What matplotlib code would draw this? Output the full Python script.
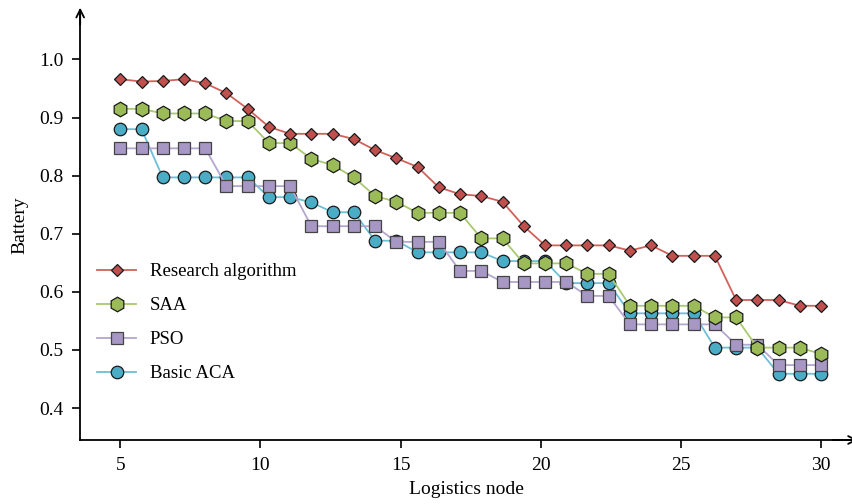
import numpy as np
import matplotlib.pyplot as plt

# 34 logistics nodes spread evenly between 5 and 30
nodes = np.linspace(5, 30, 34)

research = [0.966, 0.962, 0.963, 0.966, 0.959, 0.942, 0.915, 0.884, 0.872, 0.872,
            0.872, 0.863, 0.844, 0.830, 0.815, 0.780, 0.768, 0.765, 0.755, 0.713,
            0.680, 0.680, 0.680, 0.680, 0.671, 0.680, 0.662, 0.662, 0.662, 0.586,
            0.586, 0.586, 0.576, 0.576]
saa = [0.915, 0.915, 0.907, 0.907, 0.907, 0.894, 0.894, 0.856, 0.856, 0.829,
       0.818, 0.797, 0.765, 0.755, 0.736, 0.736, 0.736, 0.692, 0.692, 0.649,
       0.649, 0.649, 0.631, 0.631, 0.576, 0.576, 0.576, 0.576, 0.556, 0.556,
       0.504, 0.504, 0.504, 0.493]
pso = [0.847, 0.847, 0.847, 0.847, 0.847, 0.782, 0.782, 0.782, 0.782, 0.713,
       0.713, 0.713, 0.713, 0.686, 0.686, 0.686, 0.636, 0.636, 0.617, 0.617,
       0.617, 0.617, 0.593, 0.593, 0.544, 0.544, 0.544, 0.544, 0.544, 0.509,
       0.509, 0.474, 0.474, 0.474]
basic_aca = [0.880, 0.880, 0.797, 0.797, 0.797, 0.797, 0.797, 0.763, 0.763, 0.754,
             0.737, 0.737, 0.688, 0.688, 0.668, 0.668, 0.668, 0.668, 0.653, 0.653,
             0.653, 0.615, 0.615, 0.615, 0.563, 0.563, 0.563, 0.563, 0.504, 0.504,
             0.504, 0.459, 0.459, 0.459]

plt.rcParams['font.family'] = ['Liberation Serif', 'DejaVu Serif']

fig = plt.figure(figsize=(8.53, 5.04), dpi=100)
ax = fig.add_axes([0.094, 0.127, 0.906, 0.853])

# drawn back to front: ACA, PSO, SAA, research
ax.plot(nodes, basic_aca, color='#6cc0d6', lw=1.3, marker='o', ms=9,
        mfc='#4bacc6', mec='#1a1a1a', mew=0.9, label='Basic ACA', zorder=2)
ax.plot(nodes, pso, color='#b5a6cf', lw=1.3, marker='s', ms=8.3,
        mfc='#a797c4', mec='#444444', mew=0.9, label='PSO', zorder=3)
ax.plot(nodes, saa, color='#a9c96f', lw=1.3, marker='h', ms=10.5,
        mfc='#9bbb59', mec='#1a1a1a', mew=0.9, label='SAA', zorder=4)
ax.plot(nodes, research, color='#d0625a', lw=1.3, marker='D', ms=6.5,
        mfc='#c0504d', mec='#1a1a1a', mew=0.9, label='Research algorithm', zorder=5)

ax.set_xlim(3.57, 31.14)
ax.set_ylim(0.345, 1.085)
ax.set_xticks([5, 10, 15, 20, 25, 30])
ax.set_yticks([0.4, 0.5, 0.6, 0.7, 0.8, 0.9, 1.0])
ax.set_yticklabels(['0.4', '0.5', '0.6', '0.7', '0.8', '0.9', '1.0'])
ax.tick_params(labelsize=14, length=6, width=1.2, direction='out', pad=6)

for s in ['top', 'right']:
    ax.spines[s].set_visible(False)
for s in ['left', 'bottom']:
    ax.spines[s].set_linewidth(1.3)

# arrow tips on the axes
ax.annotate('', xy=(0, 1.012), xytext=(0, 0.96), xycoords='axes fraction',
            arrowprops=dict(arrowstyle='->', lw=1.3, color='black',
                            mutation_scale=14))
ax.annotate('', xy=(1.01, 0), xytext=(0.97, 0), xycoords='axes fraction',
            arrowprops=dict(arrowstyle='->', lw=1.3, color='black',
                            mutation_scale=14))

ax.set_xlabel('Logistics node', fontsize=14, labelpad=5)
ax.set_ylabel('Battery', fontsize=14, labelpad=8)

handles, labels = ax.get_legend_handles_labels()
ax.legend(handles[::-1], labels[::-1], loc='lower left',
          bbox_to_anchor=(0.0, 0.095), frameon=False, fontsize=13.5,
          handlelength=2.1, labelspacing=0.9, handletextpad=0.7)

fig.savefig('out.png', dpi=100)
